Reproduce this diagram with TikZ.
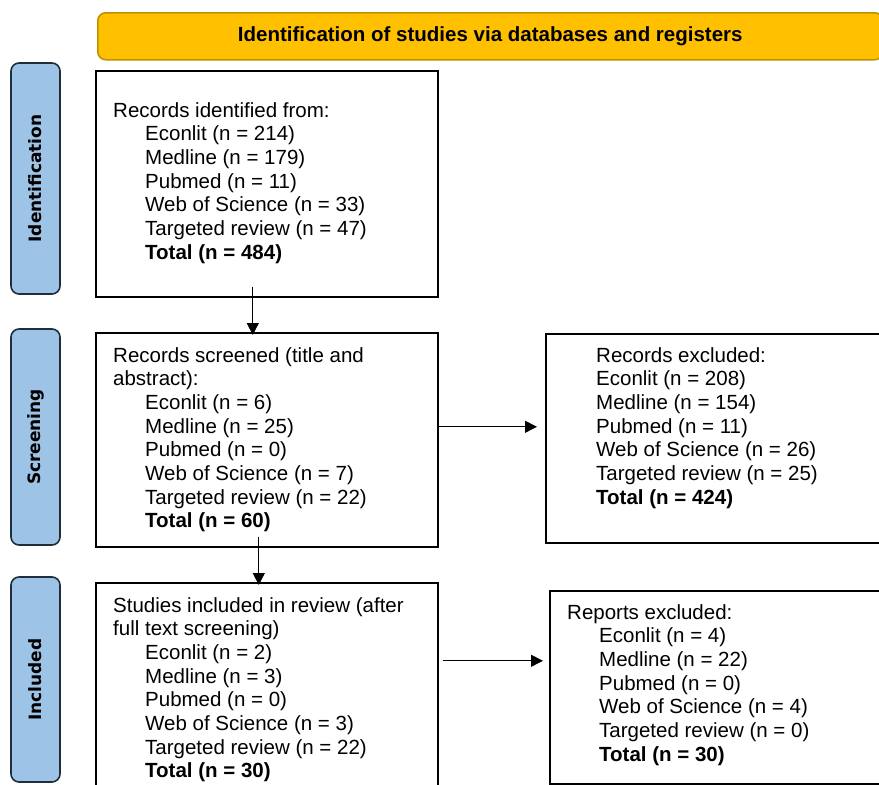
\documentclass[tikz,border=0pt]{standalone}
\usepackage{fontspec}
\setmainfont{Liberation Sans}
\newfontfamily\sidefont{DejaVu Sans}
\usetikzlibrary{arrows.meta}

\definecolor{headfill}{HTML}{FFC000}
\definecolor{headedge}{HTML}{BF9000}
\definecolor{sideblue}{HTML}{9DC3E6}
\definecolor{sideedge}{HTML}{1F2D3D}

\tikzset{
  head/.style={draw=headedge, fill=headfill, line width=1.5pt, rounded corners=8pt, anchor=north west, inner sep=0pt, font=\bfseries\fontsize{20.5}{24}\selectfont},
  phase/.style={draw=sideedge, fill=sideblue, line width=1.6pt, rounded corners=8pt, rotate=90, inner sep=0pt, font=\sidefont\bfseries\fontsize{17}{20}\selectfont},
  box/.style={draw=black, line width=1.6pt, anchor=north west, inner sep=0pt},
  txt/.style={anchor=north west, align=left, inner sep=0pt, font=\fontsize{20.5}{23.7}\selectfont},
  arr/.style={-{Triangle[length=12pt,width=12pt]}, line width=0.8pt},
}
\newcommand{\ind}{\hspace*{32pt}}

\begin{document}
\begin{tikzpicture}[x=1pt, y=-1pt]
\useasboundingbox (0,0) rectangle (879,785);
\clip (0,0) rectangle (879,785);

% header
\node[head, minimum width=785pt, minimum height=47pt] (head) at (97,12) {Identification of studies via databases and registers};

% phases
\node[phase, minimum width=231pt, minimum height=49pt] (p1) at (35.5,178.5) {Identification};
\node[phase, minimum width=216pt, minimum height=49pt] (p2) at (35.5,437) {Screening};
\node[phase, minimum width=205pt, minimum height=49pt] (p3) at (35.5,679.5) {Included};

% boxes
\node[box, minimum width=342pt, minimum height=226pt] (b1) at (95,70) {};
\node[txt] (t1) at ([xshift=18pt,yshift=-32pt]b1.north west) {Records identified from:\\
\ind Econlit (n = 214)\\
\ind Medline (n = 179)\\
\ind Pubmed (n = 11)\\
\ind Web of Science (n = 33)\\
\ind Targeted review (n = 47)\\
\ind\textbf{Total (n = 484)}};

\node[box, minimum width=342pt, minimum height=214pt] (b2) at (95,332) {};
\node[txt] (t2) at ([xshift=18pt,yshift=-15pt]b2.north west) {Records screened (title and\\
abstract):\\
\ind Econlit (n = 6)\\
\ind Medline (n = 25)\\
\ind Pubmed (n = 0)\\
\ind Web of Science (n = 7)\\
\ind Targeted review (n = 22)\\
\ind\textbf{Total (n = 60)}};

\node[box, minimum width=345pt, minimum height=209pt] (b3) at (545,333) {};
\node[txt] (t3) at ([xshift=51pt,yshift=-14pt]b3.north west) {Records excluded:\\
Econlit (n = 208)\\
Medline (n = 154)\\
Pubmed (n = 11)\\
Web of Science (n = 26)\\
Targeted review (n = 25)\\
\textbf{Total (n = 424)}};

\node[box, minimum width=342pt, minimum height=215pt] (b4) at (95,582) {};
\node[txt] (t4) at ([xshift=18pt,yshift=-15pt]b4.north west) {Studies included in review (after\\
full text screening)\\
\ind Econlit (n = 2)\\
\ind Medline (n = 3)\\
\ind Pubmed (n = 0)\\
\ind Web of Science (n = 3)\\
\ind Targeted review (n = 22)\\
\ind\textbf{Total (n = 30)}};

\node[box, minimum width=345pt, minimum height=193pt] (b5) at (549,590) {};
\node[txt] (t5) at ([xshift=18pt,yshift=-14pt]b5.north west) {Reports excluded:\\
\ind Econlit (n = 4)\\
\ind Medline (n = 22)\\
\ind Pubmed (n = 0)\\
\ind Web of Science (n = 4)\\
\ind Targeted review (n = 0)\\
\ind\textbf{Total (n = 30)}};

% arrows
\coordinate (a2s) at ([yshift=13pt]b2.east);
\coordinate (a4s) at ([xshift=4pt,yshift=29.5pt]b4.east);
\draw[arr] ([xshift=-14pt,yshift=11pt]b1.south) -- ([xshift=-14pt,yshift=-3pt]b2.north);
\draw[arr, shorten >=8pt] (a2s) -- (a2s -| b3.west);
\draw[arr] ([xshift=-8pt,yshift=11pt]b2.south) -- ([xshift=-8pt,yshift=-3pt]b4.north);
\draw[arr, shorten >=6pt] (a4s) -- (a4s -| b5.west);
\end{tikzpicture}
\end{document}
